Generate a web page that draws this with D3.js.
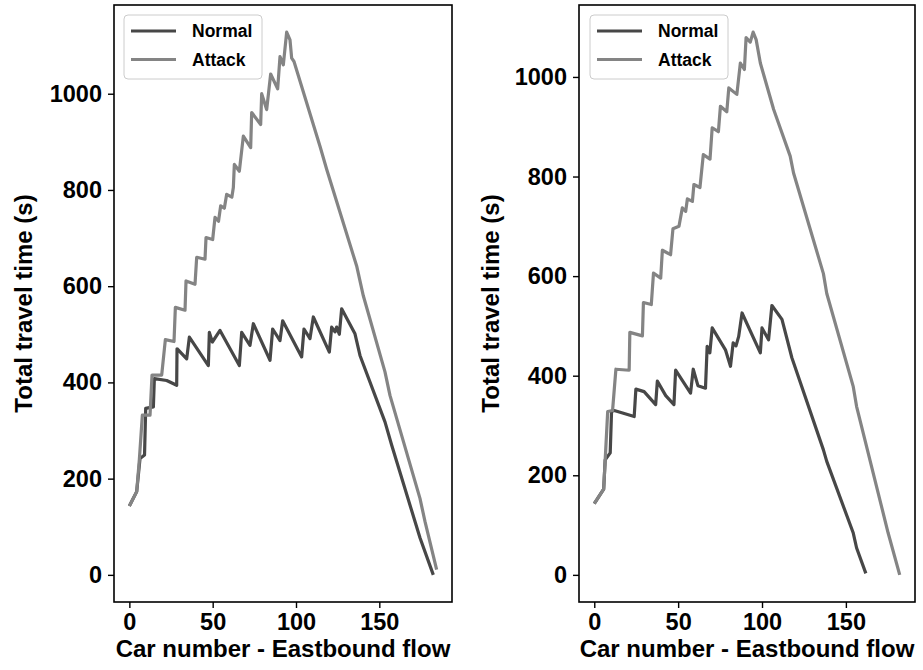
<!DOCTYPE html>
<html>
<head>
<meta charset="utf-8">
<script src="https://cdn.jsdelivr.net/npm/d3@7"></script>
<style>
  html, body { margin: 0; padding: 0; background: #fff; }
  svg text { font-family: "Liberation Sans", Arial, sans-serif; font-weight: bold; fill: #000; }
</style>
</head>
<body>
<div id="chart"></div>
<script>
// travel time per car, eastbound flow - two runs side by side
const WIDTH = 923;
const HEIGHT = 670;

const seriesNames = ["Normal", "Attack"];
const xTicks = [0, 50, 100, 150];
const yTicks = [0, 200, 400, 600, 800, 1000];

// left panel [car, seconds]
const leftNormal = [
  [0, 143], [4.4, 173], [6.4, 242], [9.1, 249], [9.8, 346], [14.4, 349], [15, 408],
  [22.4, 404], [28.4, 394], [28.6, 470], [34.4, 449], [36, 494], [47.4, 435], [48, 504],
  [49.8, 484], [54.4, 508], [66, 435], [67.4, 504], [72.4, 477], [74.4, 522], [84.4, 446],
  [86, 511], [90.4, 487], [92, 528], [103.4, 453], [104.8, 511], [108.4, 491], [110.4, 536],
  [120, 463], [121.4, 515], [123.4, 505], [124.4, 515], [126, 500], [127.4, 553],
  [135.4, 501], [138.4, 456], [153.4, 318], [157.4, 270], [174.4, 77], [182.4, 0]
];
const leftAttack = [
  [0, 143], [4.4, 173], [6, 240], [7.8, 332], [12.4, 332], [13.6, 415], [19.4, 415],
  [21.6, 489], [26.8, 485], [27.6, 556], [33.4, 550], [34, 611], [39.4, 604], [40.4, 660],
  [45.4, 656], [46, 701], [50, 697], [51.4, 743], [53.5, 735], [54.8, 767], [57, 762],
  [58.4, 791], [61.5, 785], [62.4, 805], [63, 853], [66, 839], [68.4, 912], [72.8, 888],
  [73.4, 961], [78.8, 936], [79.4, 1000], [82.4, 967], [84.8, 1041], [89, 1010],
  [90.4, 1077], [92.4, 1060], [94.4, 1128], [96.4, 1112], [97.4, 1074], [98.8, 1067],
  [114.4, 891], [118.4, 843], [136.4, 642], [140.4, 580], [153.4, 422], [156.4, 373],
  [174.4, 159], [177.4, 111], [184.4, 11]
];

// right panel [car, seconds]
const rightNormal = [
  [0, 143], [5.6, 172], [6.5, 231], [9.5, 245], [10.3, 328], [11.9, 330], [23.8, 318],
  [24.8, 373], [29.7, 368], [36.6, 342], [37.6, 389], [42.6, 360], [47.5, 342], [48.5, 411],
  [57.4, 365], [59, 413], [61.8, 380], [66.3, 375], [67.3, 459], [68.9, 446], [70.3, 496],
  [78.2, 452], [81.2, 419], [82.8, 466], [84.5, 460], [86.1, 479], [88.1, 526], [99, 446],
  [100, 496], [103.9, 472], [105.9, 541], [111.9, 513], [117.8, 436], [136.6, 251],
  [138.6, 228], [154.4, 84], [156.4, 54], [161.9, 3]
];
const rightAttack = [
  [0, 143], [5.6, 172], [6.5, 231], [8, 328], [10.9, 330], [12.9, 413], [20.8, 411],
  [21.2, 487], [28.7, 480], [29.3, 547], [34, 543], [35.3, 606], [39.6, 596], [40.6, 652],
  [45.5, 643], [46.9, 695], [50.5, 700], [52.5, 737], [54.5, 730], [55.5, 755], [58.5, 750],
  [59.4, 784], [63, 778], [65, 844], [69, 835], [70.3, 898], [74, 890], [75.2, 941],
  [79, 930], [80.2, 978], [85, 965], [87.1, 1028], [89.5, 1015], [90.5, 1079], [93, 1070],
  [94.7, 1090], [96.5, 1075], [99, 1028], [106.9, 935], [116.8, 841], [118.8, 807],
  [130.6, 673], [136.6, 605], [138.6, 565], [154.4, 378], [156.4, 338], [175.2, 84], [182.1, 0]
];

const lineColor = new Map([["Normal", "#474747"], ["Attack", "#848484"]]);

(function () {
  const svg = d3.select("#chart").append("svg")
    .attr("width", WIDTH)
    .attr("height", HEIGHT);

  // panel boxes in page pixels
  const panels = [
    { left: 114, right: 452, top: 5, bottom: 602, series: [leftNormal, leftAttack],
      ylabelX: 23, legend: { x: 124, y: 15 } },
    { left: 579, right: 915, top: 5, bottom: 602, series: [rightNormal, rightAttack],
      ylabelX: 490, legend: { x: 590, y: 15 } }
  ];

  // matplotlib style 5% margins
  function padded(ext) {
    const m = (ext[1] - ext[0]) * 0.05;
    return [ext[0] - m, ext[1] + m];
  }

  panels.forEach(p => {
    const all = p.series.flat();
    const x = d3.scaleLinear()
      .domain(padded(d3.extent(all, d => d[0])))
      .range([p.left, p.right]);
    const y = d3.scaleLinear()
      .domain(padded(d3.extent(all, d => d[1])))
      .range([p.bottom, p.top]);

    const g = svg.append("g");

    // lines
    const line = d3.line().x(d => x(d[0])).y(d => y(d[1]));
    p.series.forEach((s, i) => {
      g.append("path")
        .datum(s)
        .attr("fill", "none")
        .attr("stroke", lineColor.get(seriesNames[i]))
        .attr("stroke-width", 3.2)
        .attr("stroke-linejoin", "round")
        .attr("d", line);
    });

    // axes
    const xAxis = g.append("g")
      .attr("transform", `translate(0,${p.bottom})`)
      .call(d3.axisBottom(x).tickValues(xTicks).tickFormat(d3.format("d")).tickSize(6).tickPadding(5));
    const yAxis = g.append("g")
      .attr("transform", `translate(${p.left},0)`)
      .call(d3.axisLeft(y).tickValues(yTicks).tickFormat(d3.format("d")).tickSize(6).tickPadding(6));

    [xAxis, yAxis].forEach(a => {
      a.select(".domain").remove();
      a.selectAll(".tick line").attr("stroke", "#000").attr("stroke-width", 1.4);
      a.selectAll(".tick text")
        .style("font-size", "23.5px")
        .style("font-family", "'Liberation Sans', Arial, sans-serif")
        .style("font-weight", "bold")
        .attr("fill", "#000");
    });

    // frame
    g.append("rect")
      .attr("x", p.left)
      .attr("y", p.top)
      .attr("width", p.right - p.left)
      .attr("height", p.bottom - p.top)
      .attr("fill", "none")
      .attr("stroke", "#000")
      .attr("stroke-width", 1.6);

    // axis titles
    g.append("text")
      .attr("x", (p.left + p.right) / 2)
      .attr("y", 657)
      .attr("text-anchor", "middle")
      .style("font-size", "24px")
      .text("Car number - Eastbound flow");

    g.append("text")
      .attr("transform", `translate(${p.ylabelX},${(p.top + p.bottom) / 2}) rotate(-90)`)
      .attr("text-anchor", "middle")
      .attr("dominant-baseline", "central")
      .style("font-size", "24px")
      .text("Total travel time (s)");

    // legend
    const lg = g.append("g").attr("transform", `translate(${p.legend.x},${p.legend.y})`);
    lg.append("rect")
      .attr("width", 138)
      .attr("height", 64)
      .attr("rx", 4)
      .attr("fill", "#fff")
      .attr("fill-opacity", 0.8)
      .attr("stroke", "#cccccc")
      .attr("stroke-width", 1);

    const items = lg.selectAll("g.item")
      .data(seriesNames)
      .enter()
      .append("g")
      .attr("class", "item")
      .attr("transform", (d, i) => `translate(0,${16 + i * 28.5})`);

    items.append("line")
      .attr("x1", 7)
      .attr("x2", 52)
      .attr("stroke", d => lineColor.get(d))
      .attr("stroke-width", 3.2);

    items.append("text")
      .attr("x", 68)
      .attr("dy", "0.35em")
      .style("font-size", "17.5px")
      .text(d => d);
  });
})();
</script>
</body>
</html>
